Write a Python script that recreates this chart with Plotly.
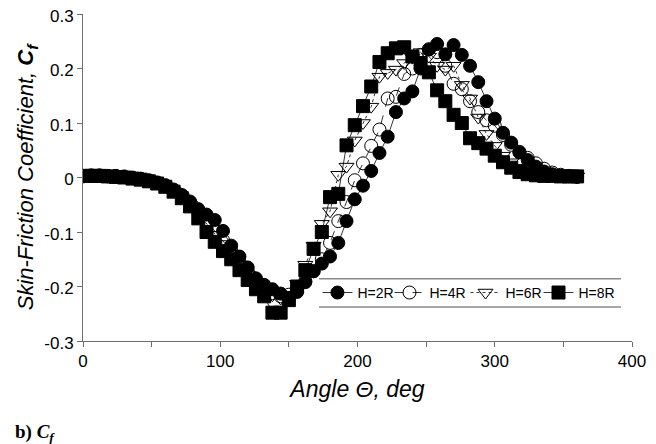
import plotly.graph_objects as go

theta = [0, 6, 12, 18, 24, 30, 36, 42, 48, 54, 60, 66, 72, 78, 84, 90, 96, 102, 108, 114,
         120, 126, 132, 138, 144, 150, 156, 162, 168, 174, 180, 186, 192, 198, 204, 210,
         216, 222, 228, 234, 240, 246, 252, 258, 264, 270, 276, 282, 288, 294, 300, 306,
         312, 318, 324, 330, 336, 342, 348, 354, 360]

cf_h2r = [0.003, 0.004, 0.004, 0.003, 0.003, 0.002, 0.000, -0.002, -0.005, -0.009,
          -0.014, -0.022, -0.032, -0.044, -0.058, -0.068, -0.078, -0.098, -0.125, -0.145,
          -0.165, -0.185, -0.197, -0.205, -0.213, -0.221, -0.210, -0.192, -0.172, -0.158,
          -0.145, -0.120, -0.080, -0.040, -0.015, 0.012, 0.045, 0.075, 0.120, 0.145,
          0.158, 0.200, 0.235, 0.245, 0.226, 0.243, 0.225, 0.205, 0.175, 0.140,
          0.108, 0.082, 0.064, 0.046, 0.032, 0.020, 0.011, 0.006, 0.003, 0.002, 0.001]

cf_h4r = [0.002, 0.003, 0.003, 0.002, 0.002, 0.001, -0.001, -0.003, -0.006, -0.010,
          -0.015, -0.024, -0.035, -0.048, -0.063, -0.080, -0.098, -0.115, -0.135, -0.155,
          -0.172, -0.190, -0.203, -0.212, -0.218, -0.215, -0.205, -0.190, -0.172, -0.150,
          -0.120, -0.080, -0.045, -0.005, 0.026, 0.058, 0.088, 0.145, 0.148, 0.190,
          0.200, 0.225, 0.235, 0.230, 0.205, 0.172, 0.162, 0.140, 0.120, 0.105,
          0.095, 0.078, 0.060, 0.047, 0.036, 0.026, 0.016, 0.009, 0.005, 0.003, 0.002]

cf_h6r = [0.002, 0.003, 0.003, 0.003, 0.002, 0.001, -0.001, -0.003, -0.006, -0.010,
          -0.016, -0.025, -0.036, -0.050, -0.066, -0.085, -0.105, -0.122, -0.140, -0.160,
          -0.178, -0.195, -0.208, -0.216, -0.222, -0.215, -0.195, -0.160, -0.125, -0.085,
          -0.062, 0.005, 0.020, 0.068, 0.100, 0.130, 0.185, 0.192, 0.198, 0.210,
          0.220, 0.230, 0.222, 0.205, 0.198, 0.205, 0.170, 0.145, 0.110, 0.080,
          0.058, 0.040, 0.028, 0.018, 0.012, 0.008, 0.006, 0.004, 0.003, 0.002, 0.002]

cf_h8r = [0.003, 0.003, 0.003, 0.002, 0.001, 0.000, -0.002, -0.004, -0.007, -0.011,
          -0.017, -0.026, -0.038, -0.053, -0.075, -0.100, -0.118, -0.135, -0.150, -0.170,
          -0.188, -0.205, -0.218, -0.248, -0.248, -0.225, -0.200, -0.170, -0.131, -0.100,
          -0.036, -0.030, 0.059, 0.096, 0.131, 0.167, 0.212, 0.228, 0.237, 0.239,
          0.222, 0.210, 0.193, 0.160, 0.140, 0.115, 0.100, 0.072, 0.063, 0.053,
          0.040, 0.028, 0.018, 0.010, 0.006, 0.004, 0.003, 0.003, 0.002, 0.002, 0.002]

series_names = ["H=2R", "H=4R", "H=6R", "H=8R"]
x_tickvals = [0, 50, 100, 150, 200, 250, 300, 350, 400]
x_ticktext = ["0", "", "100", "", "200", "", "300", "", "400"]
y_tickvals = [-0.3, -0.2, -0.1, 0, 0.1, 0.2, 0.3]
y_ticktext = ["-0.3", "-0.2", "-0.1", "0", "0.1", "0.2", "0.3"]

FONT = "Arial, Liberation Sans, sans-serif"
AX = "#6e6e6e"

styles = [
    dict(symbol="circle", line=dict(color="black", width=0.8, dash="solid")),
    dict(symbol="circle-open", line=dict(color="black", width=0.8, dash="dash")),
    dict(symbol="triangle-down-open", line=dict(color="black", width=0.8, dash="dot")),
    dict(symbol="square", line=dict(color="black", width=0.8, dash="solid")),
]
legend_ids = ["legend", "legend2", "legend3", "legend4"]
legend_x = [0.427, 0.5583, 0.6967, 0.8297]

fig = go.Figure()
for name, ys, st, lid in zip(series_names, [cf_h2r, cf_h4r, cf_h6r, cf_h8r], styles, legend_ids):
    fig.add_trace(go.Scatter(
        x=theta, y=ys, name=name, mode="lines+markers", legend=lid,
        line=st["line"],
        marker=dict(symbol=st["symbol"], size=13, color="black",
                    line=dict(color="black", width=1)),
    ))

legends = {}
for lid, lx in zip(legend_ids, legend_x):
    legends[lid] = dict(orientation="h", x=lx, xanchor="left", y=0.147, yanchor="middle",
                        bgcolor="rgba(0,0,0,0)", font=dict(size=14, family=FONT),
                        itemwidth=30)

fig.update_layout(
    width=648, height=436,
    margin=dict(l=75, r=24, t=6, b=103),
    paper_bgcolor="white", plot_bgcolor="white",
    font=dict(family=FONT, color="black"),
    showlegend=True,
    **legends,
    xaxis=dict(range=[0, 400], tickmode="array", tickvals=x_tickvals, ticktext=x_ticktext,
               automargin=False, ticklabeloverflow="allow",
               showgrid=False, zeroline=False, showline=True, linecolor=AX, linewidth=1,
               ticks="outside", ticklen=5, tickcolor=AX,
               tickfont=dict(size=17, family=FONT),
               title=dict(text="<i>Angle Θ, deg</i>", font=dict(size=23, family=FONT), standoff=10)),
    yaxis=dict(range=[-0.3, 0.3], tickmode="array", tickvals=y_tickvals, ticktext=y_ticktext,
               automargin=False, ticklabeloverflow="allow", ticklabelshift=2,
               showgrid=False, zeroline=False, showline=True, linecolor=AX, linewidth=1,
               ticks="outside", ticklen=5, tickcolor=AX,
               tickfont=dict(size=17, family=FONT),
               title=dict(text="<i>Skin-Friction Coefficient, <b>C<sub>f</sub></b></i>",
                          font=dict(size=22, family=FONT), standoff=4)),
    shapes=[
        dict(type="line", xref="paper", yref="paper", x0=0.43, x1=0.98, y0=0.19, y1=0.19,
             line=dict(color="#8a8a8a", width=1.5)),
        dict(type="line", xref="paper", yref="paper", x0=0.43, x1=0.98, y0=0.104, y1=0.104,
             line=dict(color="#8a8a8a", width=1.5)),
    ],
    annotations=[
        dict(text="<b>b) <i>C<sub>f</sub></i></b>", xref="paper", yref="paper",
             x=-0.1275, y=-0.281, xanchor="left", yanchor="middle", showarrow=False,
             font=dict(size=19, family="Liberation Serif, Times New Roman, serif", color="black")),
    ],
)

fig.write_html("out.html")
